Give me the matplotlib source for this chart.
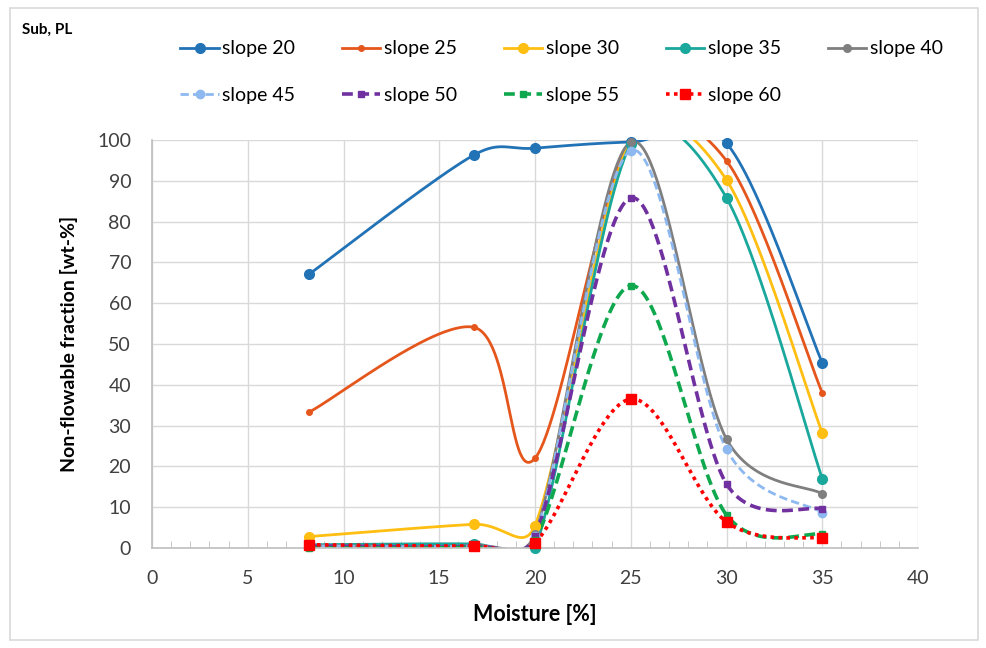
import numpy as np
import matplotlib.pyplot as plt
from matplotlib.lines import Line2D
from matplotlib.patches import Rectangle

plt.rcParams['font.family'] = ['Lato', 'DejaVu Sans']

moisture = [8.2, 16.8, 20, 25, 30, 35]

labels = ['slope 20', 'slope 25', 'slope 30', 'slope 35', 'slope 40',
          'slope 45', 'slope 50', 'slope 55', 'slope 60']
s20 = [67.1, 96.3, 98.0, 99.5, 99.2, 45.4]
s25 = [33.3, 54.1, 22.0, 100.0, 94.9, 38.0]
s30 = [2.8, 5.8, 5.5, 100.0, 90.2, 28.2]
s35 = [0.8, 1.0, 0.0, 99.0, 85.8, 17.0]
s40 = [0.6, 0.6, 3.5, 99.5, 26.7, 13.3]
s45 = [0.5, 0.5, 3.0, 97.4, 24.2, 8.7]
s50 = [0.5, 0.4, 3.0, 85.8, 15.7, 9.6]
s55 = [0.0, 0.2, 2.0, 64.3, 8.1, 3.4]
s60 = [0.8, 0.5, 1.3, 36.5, 6.4, 2.4]
series = [s20, s25, s30, s35, s40, s45, s50, s55, s60]

colors = ['#2272B6', '#E5561C', '#FFBE12', '#1AA79C', '#7F7F7F',
          '#8DB9F0', '#7030A0', '#10A84E', '#FF0000']
markers = ['o', 'o', 'o', 'o', 'o', 'o', 's', 's', 's']
msizes = [7, 4, 7, 7, 5.5, 6, 5, 5, 6.5]
styles = ['-', '-', '-', '-', '-', (0, (3, 1.5)), (0, (3, 1.5)),
          (0, (3, 1.5)), (0, (1, 1.2))]
widths = [2, 2, 2, 2, 2, 2, 2.6, 2.6, 2.6]

# pixels per data unit, so the smoothing works on screen distances
sx, sy = 19.15, 4.08


def cap(v, limit):
    n = np.hypot(*v)
    return v if n <= limit else v * limit / n


# excel style smoothed line: bezier through the points,
# handles at 1/6 of the neighbour chord but never longer than half the segment
def excel_smooth(x, y, n=60):
    p = np.column_stack([np.array(x) * sx, np.array(y) * sy])
    last = len(p) - 1
    out = []
    for i in range(last):
        p0 = p[max(i - 1, 0)]
        p1 = p[i]
        p2 = p[i + 1]
        p3 = p[min(i + 2, last)]
        d12 = np.hypot(*(p2 - p1))
        c1 = p1 + cap((p2 - p0) / 6, d12 / 2)
        c2 = p2 - cap((p3 - p1) / 6, d12 / 2)
        t = np.linspace(0, 1, n)[:, None]
        seg = (1 - t)**3 * p1 + 3 * (1 - t)**2 * t * c1 + 3 * (1 - t) * t**2 * c2 + t**3 * p2
        out.append(seg if i == 0 else seg[1:])
    out = np.vstack(out)
    return out[:, 0] / sx, out[:, 1] / sy


fig = plt.figure(figsize=(9.87, 6.48), dpi=100)
ax = fig.add_axes([152 / 987, 1 - 548 / 648, (918 - 152) / 987, (548 - 140) / 648])

handles = []
for vals, lab, c, m, ms, ls, lw in zip(series, labels, colors, markers, msizes, styles, widths):
    cx, cy = excel_smooth(moisture, vals)
    ax.plot(cx, cy, color=c, ls=ls, lw=lw)
    shown = np.array(vals, dtype=float)
    shown[shown >= 100] = np.nan  # markers at the top edge are hidden like in excel
    ax.plot(moisture, shown, ls='none', marker=m, ms=ms, color=c, clip_on=False, zorder=3)
    handles.append(Line2D([], [], color=c, ls=ls, lw=lw, marker=m, ms=ms))

ax.set_xlim(0, 40)
ax.set_ylim(0, 100)
ax.set_xticks(range(0, 41, 5))
ax.set_xticks(range(0, 41, 1), minor=True)
ax.set_yticks(range(0, 101, 10))
ax.grid(True, color='#D9D9D9', lw=1)
ax.set_axisbelow(True)
for s in ['top', 'right']:
    ax.spines[s].set_visible(False)
for s in ['left', 'bottom']:
    ax.spines[s].set_color('#BFBFBF')
    ax.spines[s].set_linewidth(1.2)
ax.tick_params(axis='both', which='major', length=0, labelsize=14, labelcolor='#404040')
ax.tick_params(axis='x', which='major', pad=16)
ax.tick_params(axis='y', which='major', pad=15)
ax.tick_params(axis='x', which='minor', direction='in', length=5, color='#BFBFBF')

ax.set_xlabel('Moisture [%]', fontsize=15.5, fontweight='bold', labelpad=12)
ax.set_ylabel('Non-flowable fraction [wt-%]', fontsize=14, fontweight='bold', labelpad=14)

# legend in row order: 5 on top, 4 below
order = [0, 5, 1, 6, 2, 7, 3, 8, 4]
fig.legend([handles[i] for i in order], [labels[i] for i in order],
           loc='upper left', bbox_to_anchor=(163 / 987, 1 - 23 / 648), ncol=5,
           frameon=False, fontsize=14, handlelength=1.96, handletextpad=0.2,
           columnspacing=2.4, labelspacing=1.52)

fig.text(22 / 987, 1 - 30 / 648, 'Sub, PL', fontsize=11, fontweight='bold', va='center')
fig.patches.append(Rectangle((10 / 987, 8 / 648), 968 / 987, 632 / 648, transform=fig.transFigure,
                             fill=False, edgecolor='#D9D9D9', lw=1.2))

fig.savefig('out.png', dpi=100)
